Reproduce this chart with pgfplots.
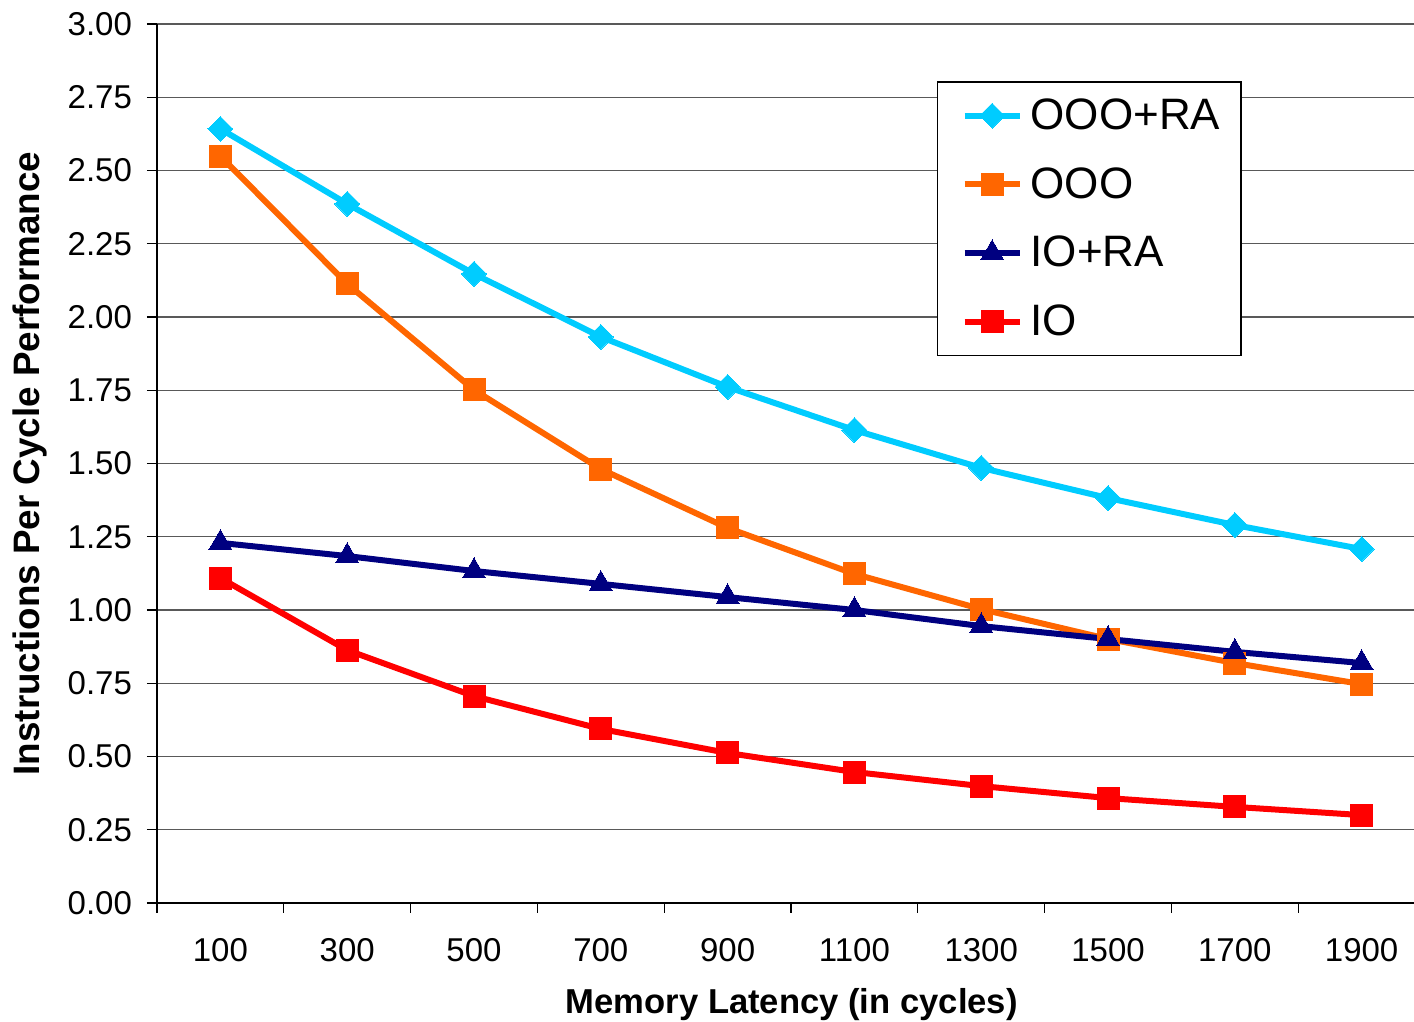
\documentclass[border=0pt]{standalone}
\usepackage{fontspec}
\setmainfont{Liberation Sans}
\usepackage{pgfplots}
\pgfplotsset{compat=1.18}
\definecolor{cOOORA}{HTML}{00CCFF}
\definecolor{cOOO}{HTML}{FF6600}
\definecolor{cIORA}{HTML}{000080}
\definecolor{cIO}{HTML}{FF0000}
\begin{document}
\begin{tikzpicture}[x=0.5pt,y=0.5pt]
\path[use as bounding box] (-157,-119) rectangle (1257,903);
\begin{axis}[
  at={(0,0)}, anchor=south west,
  scale only axis, width=628.5pt, height=439.5pt,
  xmin=-0.5, xmax=9.413, ymin=0, ymax=3,
  axis x line*=bottom, axis y line*=left,
  axis line style={-, black, line width=0.6pt},
  tick align=outside, major tick length=5pt,
  tick style={black, line width=0.6pt},
  xtick={-0.5,0.5,...,8.5}, xticklabels={{},{},{},{},{},{},{},{},{},{}},
  extra x ticks={0,1,...,9},
  extra x tick labels={100,300,500,700,900,1100,1300,1500,1700,1900},
  extra x tick style={major tick length=0pt, xticklabel style={anchor=center, yshift=-23.5pt}},
  ytick={0,0.25,...,3},
  ymajorgrids,
  major grid style={black!65, line width=0.6pt},
  /pgf/number format/assume math mode=true,
  yticklabel style={/pgf/number format/fixed, /pgf/number format/fixed zerofill, /pgf/number format/precision=2, anchor=east, xshift=-4pt},
  tick label style={font=\fontsize{16.5}{19}\selectfont},
  xlabel={Memory Latency (in cycles)},
  ylabel={Instructions Per Cycle Performance},
  xlabel style={font=\fontsize{17.3}{20}\selectfont\bfseries, at={(axis description cs:0.505,-0.1155)}, anchor=center},
  ylabel style={font=\fontsize{18.4}{21}\selectfont\bfseries, at={(axis description cs:-0.101,0.5)}, anchor=center},
  legend cell align=left,
  legend style={at={(rel axis cs:0.6205,0.935)}, anchor=north west,
    draw=black, line width=0.7pt, fill=white,
    font=\fontsize{22}{26}\selectfont,
    inner xsep=8.5pt, inner ysep=6.5pt, row sep=13.5pt},
  legend image code/.code={\path (-3.5pt,0pt) (29.5pt,0pt); \draw[mark repeat=2,mark phase=2,#1] plot coordinates {(0pt,0pt) (13.75pt,0pt) (27.5pt,0pt)};},
  every axis plot/.append style={line width=3pt},
]
\addplot[color=cOOORA, mark=square*, mark size=4.4pt, mark options={rotate=45, solid, line width=0pt}] coordinates {
(0,2.642) (1,2.386) (2,2.147) (3,1.932) (4,1.761) (5,1.614) (6,1.485) (7,1.382) (8,1.290) (9,1.208)};
\addlegendentry{OOO+RA}
\addplot[color=cOOO, mark=square*, mark size=5.5pt, mark options={solid, line width=0pt}] coordinates {
(0,2.549) (1,2.113) (2,1.751) (3,1.481) (4,1.280) (5,1.123) (6,1.003) (7,0.901) (8,0.819) (9,0.747)};
\addlegendentry{OOO}
\addplot[color=cIORA, mark=triangle*, mark size=6.6pt, mark options={solid, line width=0pt}] coordinates {
(0,1.229) (1,1.184) (2,1.133) (3,1.089) (4,1.044) (5,1.000) (6,0.945) (7,0.901) (8,0.857) (9,0.819)};
\addlegendentry{IO+RA}
\addplot[color=cIO, mark=square*, mark size=5.5pt, mark options={solid, line width=0pt}] coordinates {
(0,1.109) (1,0.863) (2,0.706) (3,0.594) (4,0.512) (5,0.447) (6,0.399) (7,0.358) (8,0.328) (9,0.300)};
\addlegendentry{IO}
\end{axis}
\end{tikzpicture}
\end{document}
